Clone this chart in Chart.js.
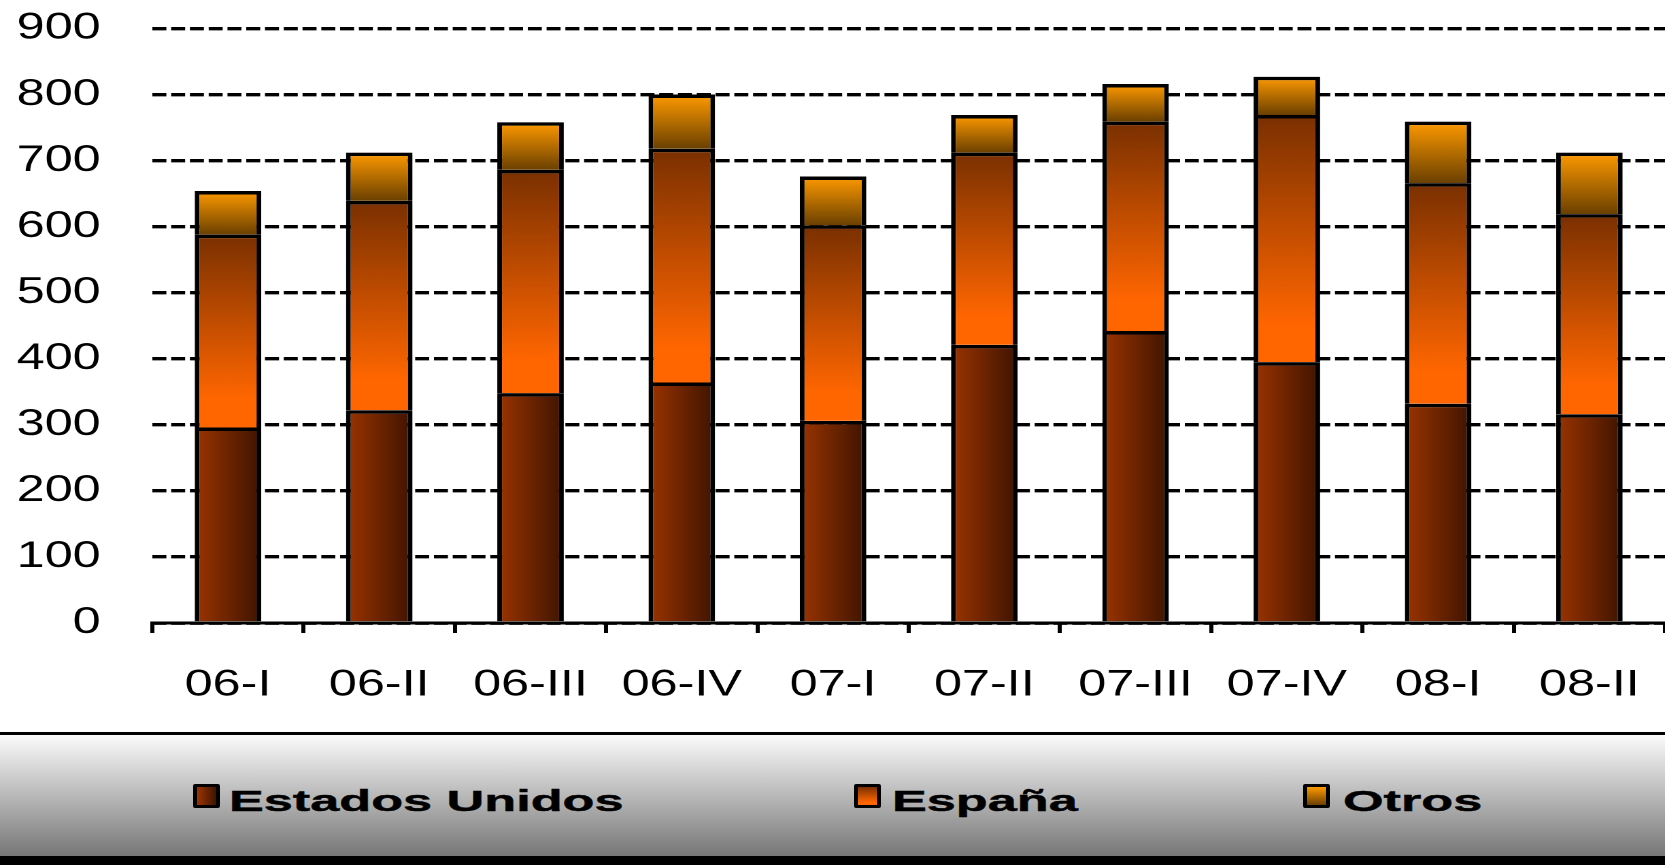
<!DOCTYPE html>
<html>
<head>
<meta charset="utf-8">
<script src="https://cdn.jsdelivr.net/npm/chart.js@4.4.1/dist/chart.umd.min.js"></script>
<style>
  html, body { margin: 0; padding: 0; background: #fff; width: 1665px; height: 865px; overflow: hidden; }
  #stretch { position: absolute; left: 0; top: 0; width: 1224px; height: 732px; transform: scaleX(1.3603); transform-origin: 0 0; }
  #legend { position: absolute; left: 0; top: 732px; width: 1665px; height: 121px; border-top: 3px solid #000; border-bottom: 9px solid #000; background: linear-gradient(#fbfbfb, #767676); }
  .box { position: absolute; top: 784px; width: 27px; height: 24px; box-sizing: border-box; border: 3px solid #000; border-left-width: 4px; border-right-width: 4px; border-radius: 2px; }
  .lbl { position: absolute; top: 786px; font: bold 30px "Liberation Sans", Arial, sans-serif; line-height: 30px; transform: scaleX(1.74); transform-origin: 0 0; white-space: nowrap; color: #000; -webkit-text-stroke: 0.4px #000; }
</style>
</head>
<body>
<div id="stretch"><canvas id="c" width="1224" height="732"></canvas></div>
<div id="legend"></div>
<div class="box" id="b0" style="left:193px; background: linear-gradient(to right, #9c3400, #3e1400);"></div>
<div class="lbl" id="l0" style="left:229px;"></div>
<div class="box" id="b1" style="left:854px; background: linear-gradient(#7a3000, #ff6600 85%, #ff6600);"></div>
<div class="lbl" id="l1" style="left:892px;"></div>
<div class="box" id="b2" style="left:1303px; background: linear-gradient(#ff9900, #6b4000);"></div>
<div class="lbl" id="l2" style="left:1343px;"></div>
<script>
const categories = ['06-I', '06-II', '06-III', '06-IV', '07-I', '07-II', '07-III', '07-IV', '08-I', '08-II'];
const seriesNames = ['Estados Unidos', 'España', 'Otros'];
const estadosUnidos = [296, 322, 348, 364, 306, 421, 442, 395, 332, 316];
const espana = [292, 317, 338, 354, 296, 291, 317, 374, 334, 303];
const otros = [66, 73, 72, 82, 74, 57, 57, 58, 93, 93];
const yTicks = [0, 100, 200, 300, 400, 500, 600, 700, 800, 900];

document.getElementById('l0').textContent = seriesNames[0];
document.getElementById('l1').textContent = seriesNames[1];
document.getElementById('l2').textContent = seriesNames[2];

const BAR_FRAC = 0.44;
const fallback = { us: '#6b2400', es: '#d05200', ot: '#c07a00' };

function grad(kind) {
  return function (c) {
    const chart = c.chart;
    const area = chart.chartArea;
    if (!area || c.type !== 'data') return fallback[kind];
    const ctx = chart.ctx;
    const xs = chart.scales.x, ys = chart.scales.y;
    const i = c.dataIndex, d = c.datasetIndex;
    let base = 0;
    for (let k = 0; k < d; k++) base += chart.data.datasets[k].data[i];
    const v = chart.data.datasets[d].data[i];
    const cx = xs.getPixelForValue(i);
    const half = xs.width / categories.length * BAR_FRAC / 2;
    let g;
    if (kind === 'us') {
      g = ctx.createLinearGradient(cx - half, 0, cx + half, 0);
      g.addColorStop(0, '#9c3400');
      g.addColorStop(1, '#3e1400');
    } else {
      const yTop = ys.getPixelForValue(base + v);
      const yBot = ys.getPixelForValue(base);
      g = ctx.createLinearGradient(0, yTop, 0, yBot);
      if (kind === 'es') {
        g.addColorStop(0, '#7a3000');
        g.addColorStop(0.85, '#ff6600');
        g.addColorStop(1, '#ff6600');
      } else {
        g.addColorStop(0, '#ff9a00');
        g.addColorStop(1, '#6b4000');
      }
    }
    return g;
  };
}

const FONT = '"Liberation Sans", Arial, sans-serif';

new Chart(document.getElementById('c'), {
  type: 'bar',
  data: {
    labels: categories,
    datasets: [
      { label: seriesNames[0], data: estadosUnidos, backgroundColor: grad('us'), borderColor: '#000', borderWidth: 3.5 },
      { label: seriesNames[1], data: espana, backgroundColor: grad('es'), borderColor: '#000', borderWidth: 3.5 },
      { label: seriesNames[2], data: otros, backgroundColor: grad('ot'), borderColor: '#000', borderWidth: 3.5 }
    ]
  },
  options: {
    responsive: false,
    animation: false,
    devicePixelRatio: 2,
    layout: { padding: { top: 28.5, left: 0, right: 0, bottom: 0 } },
    plugins: { legend: { display: false }, tooltip: { enabled: false } },
    datasets: { bar: { categoryPercentage: 1, barPercentage: BAR_FRAC } },
    scales: {
      x: {
        stacked: true,
        grid: { display: true, drawOnChartArea: false, drawTicks: true, tickLength: 10, color: '#000', lineWidth: 3, offset: true },
        border: { display: true, color: '#000', width: 3 },
        ticks: { color: '#000', font: { family: FONT, size: 37 }, padding: 30, maxRotation: 0, autoSkip: false },
        afterFit(s) { s.height = 109; s.paddingLeft = 0; s.paddingRight = 0; }
      },
      y: {
        stacked: true,
        min: yTicks[0],
        max: yTicks[yTicks.length - 1],
        afterBuildTicks(s) { s.ticks = yTicks.map(v => ({ value: v })); },
        ticks: { color: '#000', font: { family: FONT, size: 37 }, padding: 38 },
        grid: { color: '#000', lineWidth: 3.4, drawTicks: false },
        border: { display: false, dash: [10.3, 3.5] },
        afterFit(s) { s.width = 112; s.paddingTop = 0; s.paddingBottom = 0; }
      }
    }
  }
});
</script>
</body>
</html>
